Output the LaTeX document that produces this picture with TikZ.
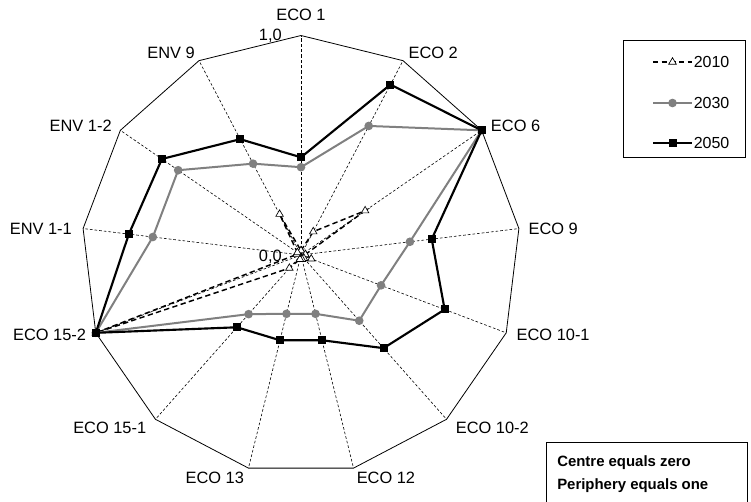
\documentclass[tikz,border=0pt]{standalone}
\usepackage{fontspec}
\setmainfont{Liberation Sans}
\usepackage{tikz}
\usetikzlibrary{calc, shapes.geometric}
\usepackage{xcolor}

\begin{document}
\begin{tikzpicture}[x=0.75pt, y=0.75pt,
    spoke/.style={black, line width=0.45pt, dash pattern=on 2pt off 1.5pt},
    rim/.style={black, line width=0.6pt},
    s2010/.style={black, line width=1.1pt, dash pattern=on 4pt off 2.5pt},
    s2030/.style={gray, line width=1.5pt},
    s2050/.style={black, line width=1.6pt},
    m2010/.style={regular polygon, regular polygon sides=3, draw=black, fill=white, line width=0.5pt, minimum size=6.5pt, inner sep=0pt},
    m2030/.style={circle, fill=gray, minimum size=6.5pt, inner sep=0pt},
    m2050/.style={rectangle, fill=black, minimum size=6pt, inner sep=0pt},
    lbl/.style={font=\fontsize{12.3}{14}\selectfont, inner sep=0pt},
    note/.style={font=\fontsize{11.2}{13}\selectfont\bfseries, inner sep=0pt}]

    % 1. Frame of the picture and the centre
    \useasboundingbox (-301,-246) rectangle (450,255);
    \coordinate (O) at (0,0);

    % 2. The 13 rim corners and the dashed spokes
    \foreach \i in {0,...,12} {
        \coordinate (v\i) at ({90-\i*360/13}:219.5);
    }
    \foreach \i in {1,...,12} {
        \draw[spoke] (O) -- (v\i);
    }
    \draw[black, line width=0.7pt, dash pattern=on 2.5pt off 1.5pt] (O) -- (v0); % value axis
    \draw[rim] (v0) \foreach \i in {1,...,12} { -- (v\i) } -- cycle;

    % 3. Values of the three series (0 = centre, 1 = rim)
    \foreach \i/\va/\vb/\vc in {0/0.02/0.40/0.445, 1/0.12/0.664/0.877, 2/0.355/1/1,
        3/0.02/0.50/0.60, 4/0.05/0.39/0.70, 5/0.02/0.40/0.567, 6/0.02/0.276/0.40,
        7/0.02/0.276/0.40, 8/0.08/0.36/0.44, 9/1/1/1, 10/0.02/0.68/0.79,
        11/0.02/0.68/0.77, 12/0.21/0.47/0.596} {
        \coordinate (p2010-\i) at ({90-\i*360/13}:{219.5*\va});
        \coordinate (p2030-\i) at ({90-\i*360/13}:{219.5*\vb});
        \coordinate (p2050-\i) at ({90-\i*360/13}:{219.5*\vc});
    }

    % 4. Draw the series, oldest first
    \foreach \yr in {2010, 2030, 2050} {
        \draw[s\yr] (p\yr-0) \foreach \i in {1,...,12} { -- (p\yr-\i) } -- cycle;
        \foreach \i in {0,...,12} {
            \node[m\yr] (q\yr-\i) at (p\yr-\i) {};
        }
    }

    % 5. Axis names
    \foreach \i/\txt/\anc/\dx/\dy in {
        0/ECO 1/center/0/20.5, 1/ECO 2/west/5.3/7.7, 2/ECO 6/west/9.1/4.3,
        3/ECO 9/west/9.4/0, 4/ECO 10-1/west/10.2/-2, 5/ECO 10-2/west/9/-8.4,
        6/ECO 12/west/3/-9.4, 7/ECO 13/east/-4.3/-9.4, 8/ECO 15-1/east/-9/-8.4,
        9/ECO 15-2/east/-9.5/-2, 10/ENV 1-1/east/-11/-0.7, 11/ENV 1-2/east/-8.4/4.3,
        12/ENV 9/east/-4/7.6%
    } {
        \node[lbl, anchor=\anc] (n\i) at ($(v\i)+(\dx,\dy)$) {\txt};
    }

    % 6. Scale marks on the value axis
    \node[lbl, anchor=east] (top) at (-19,219) {1,0};
    \node[lbl, anchor=east] (zero) at (-19,-1.7) {0,0};

    % 7. Legend
    \draw[black, line width=0.5pt] (322,215) rectangle (444,98);
    \foreach \yr/\yy in {2010/193, 2030/152, 2050/112} {
        \coordinate (la\yr) at (352,\yy);
        \coordinate (lb\yr) at (391,\yy);
        \draw[s\yr] (la\yr) -- (lb\yr);
        \node[m\yr] (lm\yr) at ($(la\yr)!0.5!(lb\yr)$) {};
        \node[lbl, anchor=west, font=\fontsize{12}{14}\selectfont] (lt\yr) at (392.5,\yy) {\yr};
    }

    % 8. Note box
    \draw[black, line width=0.5pt] (245,-187.7) rectangle (446,-260);
    \node[note, anchor=base west] (c1) at (256,-211.5) {Centre equals zero};
    \node[note, anchor=base west] (c2) at (256,-234) {Periphery equals one};

\end{tikzpicture}
\end{document}
